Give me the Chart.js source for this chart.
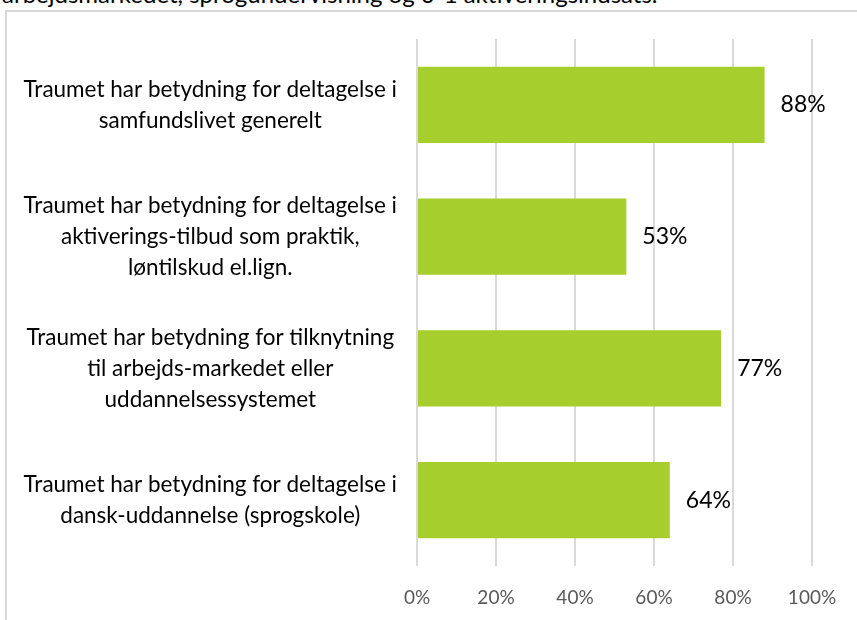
<!DOCTYPE html>
<html>
<head>
<meta charset="utf-8">
<title>Traumets betydning</title>
<style>
body {
	margin: 0;
	background: #fff;
	overflow: hidden;
}
#caption {
	position: absolute;
	left: 2px;
	top: -18px;
	font: 24px Lato, sans-serif;
	line-height: 24px;
	color: #000;
	white-space: nowrap;
}
#frame {
	position: absolute;
	left: 5px;
	top: 10px;
	width: 900px;
	height: 700px;
	border-left: 2px solid #d9d9d9;
	border-top: 2px solid #d9d9d9;
}
#chart-container {
	position: absolute;
	left: 8px;
	top: 12px;
	width: 849px;
	height: 608px;
}
</style>
</head>
<body>
<div id="caption">arbejdsmarkedet, sprogundervisning og 0-1 aktiveringsindsats.</div>
<div id="frame"></div>
<div id="chart-container"><canvas id="chart"></canvas></div>
<script src="https://cdn.jsdelivr.net/npm/chart.js@4/dist/chart.umd.min.js"></script>
<script>
	var categories = [
		['Traumet har betydning for deltagelse i', 'samfundslivet generelt'],
		['Traumet har betydning for deltagelse i', 'aktiverings-tilbud som praktik,', 'løntilskud el.lign.'],
		['Traumet har betydning for tilknytning', 'til arbejds-markedet eller', 'uddannelsessystemet'],
		['Traumet har betydning for deltagelse i', 'dansk-uddannelse (sprogskole)']
	];
	var shares = [88, 53, 77, 64];
	var tickValues = [0, 20, 40, 60, 80, 100];

	// draws the value label just after the end of each bar
	var valueLabels = {
		id: 'valueLabels',
		afterDatasetsDraw: function(chart) {
			var ctx = chart.ctx;
			var meta = chart.getDatasetMeta(0);
			ctx.save();
			ctx.font = '23px Lato, sans-serif';
			ctx.fillStyle = '#000';
			ctx.textAlign = 'left';
			ctx.textBaseline = 'middle';
			meta.data.forEach(function(bar, i) {
				ctx.fillText(shares[i] + '%', bar.x + 16, bar.y);
			});
			ctx.restore();
		}
	};

	new Chart(document.getElementById('chart'), {
		type: 'bar',
		data: {
			labels: categories,
			datasets: [{
				data: shares,
				backgroundColor: '#a6ce2c',
				barPercentage: 0.58,
				categoryPercentage: 1
			}]
		},
		options: {
			indexAxis: 'y',
			responsive: true,
			maintainAspectRatio: false,
			animation: false,
			layout: {
				padding: { top: 27, right: 45, bottom: 11, left: 0 }
			},
			plugins: {
				legend: { display: false },
				tooltip: { enabled: false }
			},
			scales: {
				x: {
					min: 0,
					max: 100,
					afterBuildTicks: function(scale) {
						scale.ticks = tickValues.map(function(v) { return { value: v }; });
					},
					afterFit: function(scale) { scale.height = 43; },
					grid: {
						color: '#d9d9d9',
						lineWidth: 2,
						drawTicks: false
					},
					border: { display: false },
					ticks: {
						padding: 20,
						color: '#595959',
						font: { family: 'Lato', size: 19 },
						callback: function(v) { return v + '%'; }
					}
				},
				y: {
					afterFit: function(scale) {
						scale.width = 409;
						scale.paddingTop = 0;
						scale.paddingBottom = 0;
					},
					grid: { display: false, drawTicks: false },
					border: { display: false },
					ticks: {
						padding: 20,
						crossAlign: 'center',
						color: '#000',
						font: { family: 'Lato', size: 22.5, lineHeight: 1.38 }
					}
				}
			}
		},
		plugins: [valueLabels]
	});
</script>
</body>
</html>
